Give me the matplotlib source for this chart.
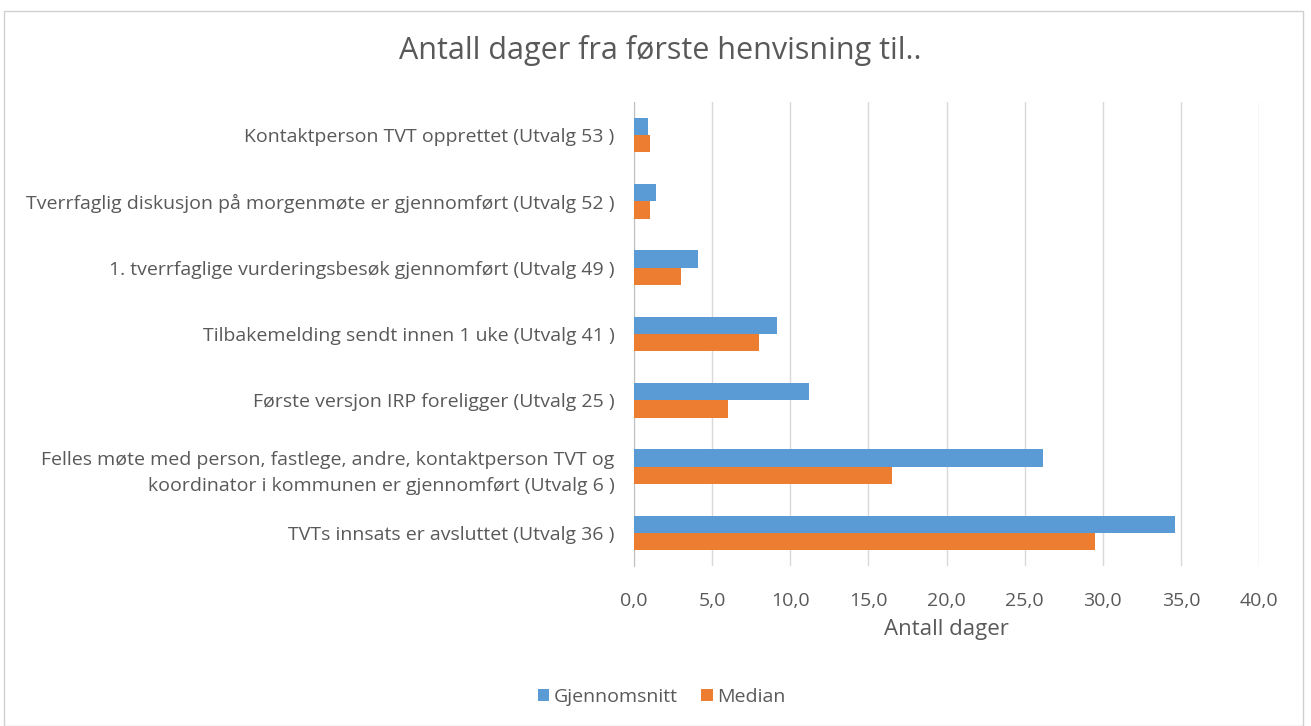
import matplotlib
matplotlib.use("Agg")
import matplotlib.pyplot as plt
from matplotlib.patches import Rectangle
from matplotlib.ticker import FuncFormatter

categories = [
    "Kontaktperson TVT opprettet (Utvalg 53 )",
    "Tverrfaglig diskusjon på morgenmøte er gjennomført (Utvalg 52 )",
    "1. tverrfaglige vurderingsbesøk gjennomført (Utvalg 49 )",
    "Tilbakemelding sendt innen 1 uke (Utvalg 41 )",
    "Første versjon IRP foreligger (Utvalg 25 )",
    "Felles møte med person, fastlege, andre, kontaktperson TVT og\nkoordinator i kommunen er gjennomført (Utvalg 6 )",
    "TVTs innsats er avsluttet (Utvalg 36 )",
]
gjennomsnitt = [0.9, 1.4, 4.1, 9.15, 11.2, 26.2, 34.6]
median = [1.0, 1.0, 3.0, 8.0, 6.0, 16.5, 29.5]
xticks = [0, 5, 10, 15, 20, 25, 30, 35, 40]

plt.rcParams['font.family'] = ['Open Sans', 'DejaVu Sans']
grey = "#595959"

fig = plt.figure(figsize=(13.11, 7.26), dpi=100)
W, H = 1311, 726
ax = fig.add_axes([634 / W, 1 - 566 / H, 625 / W, 464 / H])

n = len(categories)
ypos = [n - 1 - i for i in range(n)]
h = 0.26
ax.barh([y + h / 2 for y in ypos], gjennomsnitt, height=h, color="#5B9BD5", label="Gjennomsnitt", zorder=3)
ax.barh([y - h / 2 for y in ypos], median, height=h, color="#ED7D31", label="Median", zorder=3)

ax.set_ylim(-0.5, n - 0.5)
ax.set_xlim(0, 40)
ax.set_xticks(xticks)
ax.xaxis.set_major_formatter(FuncFormatter(lambda v, p: f"{v:.1f}".replace(".", ",")))
ax.set_yticks(ypos)
ax.set_yticklabels(categories, fontsize=14, color=grey, linespacing=1.6)
ax.tick_params(axis="y", length=0, pad=14)
ax.tick_params(axis="x", length=0, pad=19, labelsize=14, labelcolor=grey)
ax.grid(axis="x", color="#d9d9d9", linewidth=1, zorder=0)
for s in ["top", "right", "bottom"]:
    ax.spines[s].set_visible(False)
ax.spines["left"].set_color("#bfbfbf")
ax.set_xlabel("Antall dager", fontsize=16, color=grey, labelpad=6)

fig.text(660 / W, 1 - 50 / H, "Antall dager fra første henvisning til..", ha="center", va="center",
         fontsize=22, color=grey)

leg = fig.legend(loc="center", bbox_to_anchor=(662 / W, 1 - 697 / H), ncol=2, frameon=False,
                 fontsize=14, handlelength=0.57, handleheight=0.57, columnspacing=1.2, handletextpad=0.25)
for t in leg.get_texts():
    t.set_color(grey)

fig.patches.append(Rectangle((4 / W, 0), 1299 / W, 1 - 11 / H, transform=fig.transFigure,
                             fill=False, edgecolor="#d0d0d0", linewidth=1))

fig.savefig("out.png", dpi=100)
